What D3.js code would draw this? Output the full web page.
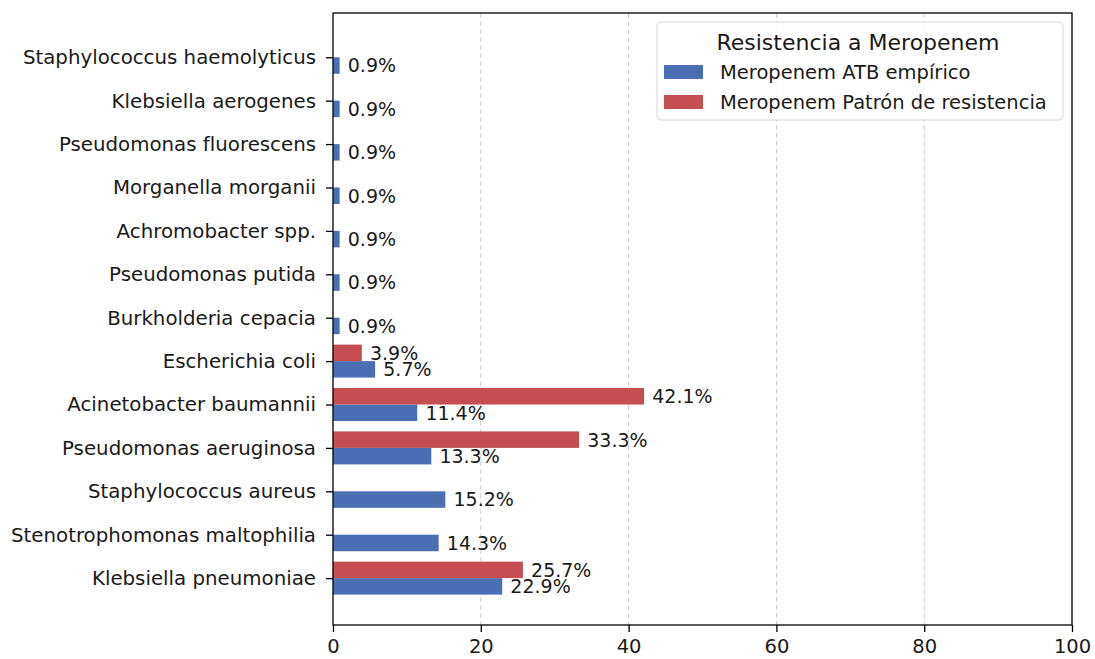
<!DOCTYPE html>
<html lang="es">
<head>
<meta charset="UTF-8"/>
<title>Resistencia a Meropenem</title>
<script src="https://cdn.jsdelivr.net/npm/d3@7"></script>
<style>
  body { margin: 0; background: #fff; }
  text { font-family: "DejaVu Sans", sans-serif; fill: #1a1a1a; }
</style>
</head>
<body>
<script>
// categories, bottom to top
var categories = [
  "Klebsiella pneumoniae", "Stenotrophomonas maltophilia", "Staphylococcus aureus",
  "Pseudomonas aeruginosa", "Acinetobacter baumannii", "Escherichia coli",
  "Burkholderia cepacia", "Pseudomonas putida", "Achromobacter spp.",
  "Morganella morganii", "Pseudomonas fluorescens", "Klebsiella aerogenes",
  "Staphylococcus haemolyticus"
];
var empirico = [22.9, 14.3, 15.2, 13.3, 11.4, 5.7, 0.9, 0.9, 0.9, 0.9, 0.9, 0.9, 0.9];
var patron   = [25.7, 0, 0, 33.3, 42.1, 3.9, 0, 0, 0, 0, 0, 0, 0];
var seriesNames = ["Meropenem ATB empírico", "Meropenem Patrón de resistencia"];
var xTicks = [0, 20, 40, 60, 80, 100];

var w = 1095, h = 659;
var pLeft = 333, pRight = 1072, pTop = 13, pBottom = 625;
var barH = 0.38;
var blue = "#4a6fb3", red = "#c44e52";

var svg = d3.select("body").append("svg")
  .attr("width", w).attr("height", h);

var xScale = d3.scaleLinear().domain([0, 100]).range([pLeft, pRight]);
var yScale = d3.scaleLinear().domain([-1.08, 13.02]).range([pBottom, pTop]);

// grid
svg.append("g").selectAll("line")
  .data(xTicks.slice(1, -1))
  .enter().append("line")
  .attr("x1", function(d) { return xScale(d); })
  .attr("x2", function(d) { return xScale(d); })
  .attr("y1", pTop).attr("y2", pBottom)
  .attr("stroke", "#cccccc").attr("stroke-width", 1)
  .attr("stroke-dasharray", "5,3");

var rows = categories.map(function(c, i) {
  return { name: c, i: i, a: empirico[i], b: patron[i] };
});

// blue bars (below tick)
svg.append("g").selectAll("rect")
  .data(rows.filter(function(d) { return d.a > 0; }))
  .enter().append("rect")
  .attr("x", xScale(0))
  .attr("y", function(d) { return yScale(d.i); })
  .attr("width", function(d) { return xScale(d.a) - xScale(0); })
  .attr("height", function(d) { return yScale(d.i - barH) - yScale(d.i); })
  .attr("fill", blue);

// red bars (above tick)
svg.append("g").selectAll("rect")
  .data(rows.filter(function(d) { return d.b > 0; }))
  .enter().append("rect")
  .attr("x", xScale(0))
  .attr("y", function(d) { return yScale(d.i + barH); })
  .attr("width", function(d) { return xScale(d.b) - xScale(0); })
  .attr("height", function(d) { return yScale(d.i) - yScale(d.i + barH); })
  .attr("fill", red);

// value labels
svg.append("g").selectAll("text")
  .data(rows.filter(function(d) { return d.a > 0; }))
  .enter().append("text")
  .attr("x", function(d) { return xScale(d.a + 1.1); })
  .attr("y", function(d) { return yScale(d.i - barH / 2); })
  .attr("dy", "0.36em")
  .attr("font-size", "19px")
  .text(function(d) { return d.a.toFixed(1) + "%"; });

svg.append("g").selectAll("text")
  .data(rows.filter(function(d) { return d.b > 0; }))
  .enter().append("text")
  .attr("x", function(d) { return xScale(d.b + 1.1); })
  .attr("y", function(d) { return yScale(d.i + barH / 2); })
  .attr("dy", "0.36em")
  .attr("font-size", "19px")
  .text(function(d) { return d.b.toFixed(1) + "%"; });

// frame
svg.append("rect")
  .attr("x", pLeft).attr("y", pTop)
  .attr("width", pRight - pLeft).attr("height", pBottom - pTop)
  .attr("fill", "none").attr("stroke", "#000").attr("stroke-width", 1.3);

// axes
var xAxis = d3.axisBottom(xScale).tickValues(xTicks).tickSize(7).tickPadding(7);
var gx = svg.append("g")
  .attr("transform", "translate(0," + pBottom + ")")
  .call(xAxis);
gx.select(".domain").remove();
gx.selectAll("line").attr("stroke-width", 1.3);
gx.selectAll("text").attr("font-size", "19.5px").attr("font-family", "DejaVu Sans");

var yAxis = d3.axisLeft(yScale)
  .tickValues(d3.range(categories.length))
  .tickFormat(function(i) { return categories[i]; })
  .tickSize(7).tickPadding(10);
var gy = svg.append("g")
  .attr("transform", "translate(" + pLeft + ",0)")
  .call(yAxis);
gy.select(".domain").remove();
gy.selectAll("line").attr("stroke-width", 1.3);
gy.selectAll("text").attr("font-size", "19.8px").attr("font-family", "DejaVu Sans");

// legend
var lg = svg.append("g").attr("transform", "translate(657,22)");
lg.append("rect")
  .attr("width", 406).attr("height", 98).attr("rx", 4)
  .attr("fill", "#fff").attr("fill-opacity", 0.85)
  .attr("stroke", "#d6d6d6");
lg.append("text")
  .attr("x", 201).attr("y", 20).attr("dy", "0.36em")
  .attr("text-anchor", "middle").attr("font-size", "22px")
  .text("Resistencia a Meropenem");
var items = lg.selectAll("g.item")
  .data(seriesNames)
  .enter().append("g")
  .attr("class", "item")
  .attr("transform", function(d, i) { return "translate(0," + (50 + i * 30) + ")"; });
items.append("rect")
  .attr("x", 7).attr("y", -7).attr("width", 39).attr("height", 14)
  .attr("fill", function(d, i) { return i === 0 ? blue : red; });
items.append("text")
  .attr("x", 63).attr("dy", "0.36em").attr("font-size", "19.5px")
  .text(function(d) { return d; });
</script>
</body>
</html>
